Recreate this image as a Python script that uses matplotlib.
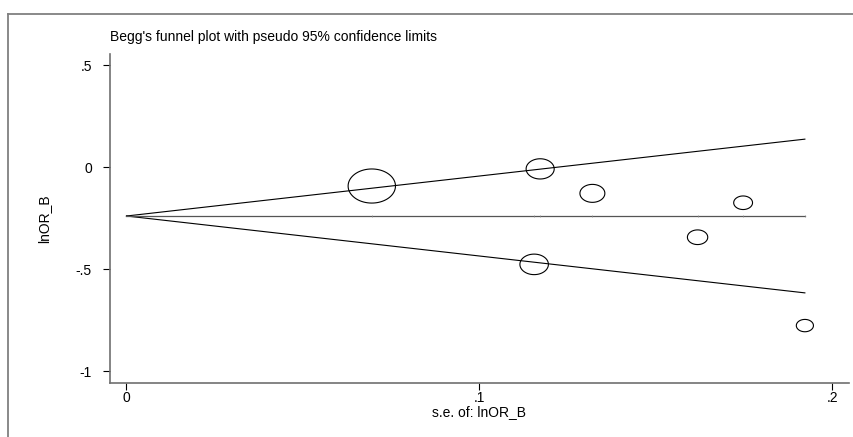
import numpy as np
import matplotlib
matplotlib.use("Agg")
import matplotlib.pyplot as plt
from matplotlib.path import Path
from matplotlib.lines import Line2D

plt.rcParams['font.family'] = ['Liberation Sans', 'DejaVu Sans']

# study data
se = [0.0695, 0.1172, 0.1320, 0.1747, 0.1618, 0.1155, 0.1922]
lnor = [-0.092, -0.008, -0.128, -0.174, -0.343, -0.476, -0.776]
pooled = -0.239

xticks = [0, 0.1, 0.2]
xticklabels = ['0', '.1', '.2']
yticks = [-1, -0.5, 0, 0.5]
yticklabels = ['-1', '-.5', '0', '.5']

se = np.array(se)
lnor = np.array(lnor)

fig = plt.figure(figsize=(8.54, 4.37), dpi=100)
ax = fig.add_axes([110/854, 1-383/437, (849-110)/854, (383-54)/437])

# outer graph border (top and left only visible)
fig.add_artist(Line2D([8/854, 8/854], [0, 1-14/437], transform=fig.transFigure,
                      color='#808080', lw=1.3))
fig.add_artist(Line2D([8/854, 1], [1-14/437, 1-14/437], transform=fig.transFigure,
                      color='#808080', lw=1.3))

# slightly flattened circle marker (like the stata output)
t = np.linspace(0, 2*np.pi, 80)
ell = Path(np.column_stack([np.cos(t), 0.72*np.sin(t)]))

smax = se.max()
xs = np.array([0, smax])
ax.plot(xs, pooled + 1.96*xs, color='black', lw=0.8)
ax.plot(xs, pooled - 1.96*xs, color='black', lw=0.8)
ax.plot(xs, [pooled, pooled], color='#555555', lw=0.9)
ax.plot(se, np.full(len(se), pooled), ls='none', marker='|', ms=1.5,
        color='#888888', mew=0.5)

# marker width proportional to 1/se (weights)
msize = 2.37 / se
ax.scatter(se, lnor, s=msize**2, marker=ell, facecolors='none',
           edgecolors='black', linewidths=0.8, zorder=3)

ax.set_xlim(-0.00467, 0.2047)
ax.set_ylim(-1.0574, 0.555)
ax.set_xticks(xticks)
ax.set_xticklabels(xticklabels)
ax.set_yticks(yticks)
ax.set_yticklabels(yticklabels)
ax.tick_params(axis='both', direction='out', length=5, width=0.8, labelsize=10)
ax.tick_params(axis='y', pad=8)
ax.tick_params(axis='x', pad=1)
for s in ['top', 'right']:
    ax.spines[s].set_visible(False)
for s in ['left', 'bottom']:
    ax.spines[s].set_color('#707070')
    ax.spines[s].set_linewidth(1.2)

ax.set_xlabel('s.e. of: lnOR_B', fontsize=10, labelpad=0)
ax.set_ylabel('lnOR_B', fontsize=10, labelpad=18)

fig.text(110/854, 1-37/437, "Begg's funnel plot with pseudo 95% confidence limits",
         fontsize=10, ha='left', va='center')

fig.savefig('out.png', dpi=100)
